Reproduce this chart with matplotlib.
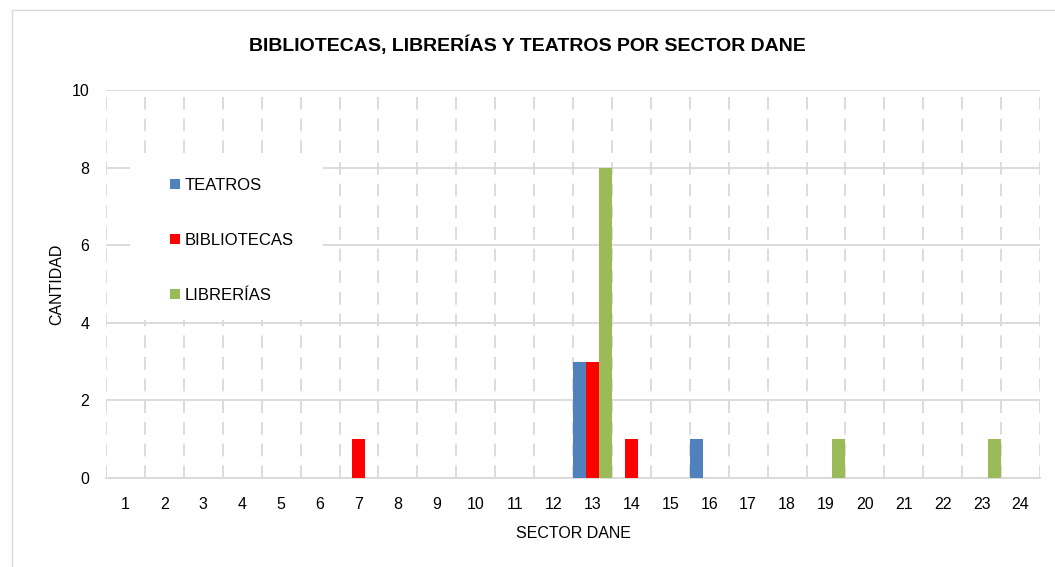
import matplotlib.pyplot as plt
import numpy as np
from matplotlib import font_manager
from matplotlib.patches import Rectangle

# familia estrecha si existe
nombres = {f.name for f in font_manager.fontManager.ttflist}
fuente = 'Liberation Sans Narrow' if 'Liberation Sans Narrow' in nombres else 'Liberation Sans'
plt.rcParams['font.family'] = [fuente, 'DejaVu Sans']

sectores = [str(i) for i in range(1, 25)]
teatros = [0, 0, 0, 0, 0, 0, 0, 0, 0, 0, 0, 0, 3, 0, 0, 1, 0, 0, 0, 0, 0, 0, 0, 0]
bibliotecas = [0, 0, 0, 0, 0, 0, 1, 0, 0, 0, 0, 0, 3, 1, 0, 0, 0, 0, 0, 0, 0, 0, 0, 0]
librerias = [0, 0, 0, 0, 0, 0, 0, 0, 0, 0, 0, 0, 8, 0, 0, 0, 0, 0, 1, 0, 0, 0, 1, 0]

series = [('TEATROS', teatros, '#4F81BD'),
          ('BIBLIOTECAS', bibliotecas, '#FF0000'),
          ('LIBRERÍAS', librerias, '#9BBB59')]

fig = plt.figure(figsize=(10.55, 5.67), dpi=100)
fig.patches.append(Rectangle((12 / 1055, -0.1), 1.2, 1 - 10 / 567 + 0.1, transform=fig.transFigure,
                             fill=False, edgecolor='#d9d9d9', linewidth=1))
ax = fig.add_axes([106 / 1055, 1 - 478 / 567, 934 / 1055, 388 / 567])

x = np.arange(len(sectores))
ancho = 1 / 3
for i, (nombre, valores, color) in enumerate(series):
    ax.bar(x + (i - 1) * ancho, valores, ancho, color=color, label=nombre, zorder=3)

ax.set_xlim(-0.5, len(sectores) - 0.5)
ax.set_ylim(0, 10)
ax.set_yticks(range(0, 11, 2))
ax.set_xticks(x)
ax.set_xticklabels(sectores)
ax.set_xticks(np.arange(-0.5, len(sectores), 1), minor=True)
ax.tick_params(axis='both', which='both', length=0, labelsize=11.5, colors='#000000')
ax.tick_params(axis='x', pad=14)
ax.tick_params(axis='y', pad=12)

ax.grid(axis='y', which='major', color='#d9d9d9', linewidth=1.3, zorder=0)
ax.grid(axis='x', which='minor', color='#d9d9d9', linewidth=1.3, linestyle=(0, (7, 5)), zorder=0)
ax.grid(axis='x', which='major', visible=False)
for lado in ['top', 'right', 'left']:
    ax.spines[lado].set_visible(False)
ax.spines['bottom'].set_color('#d9d9d9')
ax.spines['bottom'].set_linewidth(1.3)

ax.set_xlabel('SECTOR DANE', fontsize=11.5, labelpad=10)
ax.set_ylabel('CANTIDAD', fontsize=11.5, labelpad=5)
fig.text(0.5, 1 - 45 / 567, 'BIBLIOTECAS, LIBRERÍAS Y TEATROS POR SECTOR DANE',
         ha='center', va='center', fontsize=14, fontweight='bold')

# fondo blanco de la leyenda
ax.add_patch(Rectangle((24 / 934, 158 / 388), 193 / 934, 163 / 388, transform=ax.transAxes,
                       facecolor='white', edgecolor='none', zorder=4))
leg = ax.legend(loc='upper left', bbox_to_anchor=(64 / 934, 1 - 88 / 388), frameon=False,
                fontsize=12, labelspacing=2.4, handlelength=0.6, handleheight=0.6,
                handletextpad=0.3, borderpad=0, borderaxespad=0)
leg.set_zorder(5)

fig.savefig('out.png', dpi=100)
